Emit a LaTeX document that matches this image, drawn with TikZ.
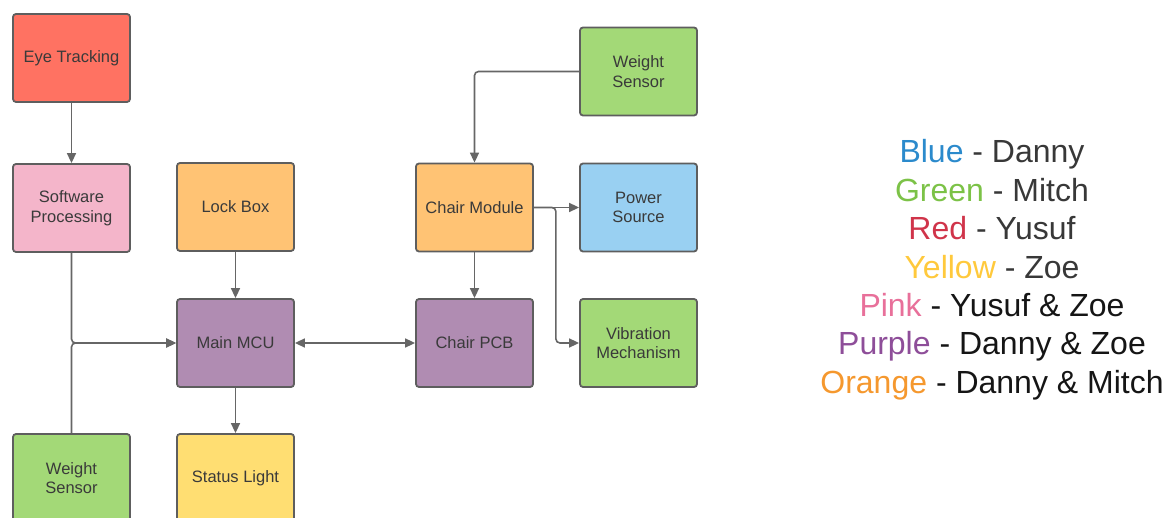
\documentclass[tikz,border=0pt]{standalone}
\usepackage{fontspec}
\setmainfont{Liberation Sans}
\usetikzlibrary{arrows.meta}

\definecolor{boxline}{HTML}{5E5E5E}
\definecolor{boxtext}{HTML}{3A3A3A}
\definecolor{connline}{HTML}{666666}
\definecolor{fillred}{HTML}{FF7262}
\definecolor{fillpink}{HTML}{F4B5CA}
\definecolor{fillorange}{HTML}{FFC374}
\definecolor{fillpurple}{HTML}{B08CB2}
\definecolor{fillgreen}{HTML}{A3D977}
\definecolor{fillblue}{HTML}{99D0F2}
\definecolor{fillyellow}{HTML}{FFDE72}
\definecolor{keyblue}{HTML}{2B8ACC}
\definecolor{keygreen}{HTML}{7CC247}
\definecolor{keyred}{HTML}{D0344A}
\definecolor{keyyellow}{HTML}{FFC93C}
\definecolor{keypink}{HTML}{E8709A}
\definecolor{keypurple}{HTML}{8E4E99}
\definecolor{keyorange}{HTML}{F5982E}
\definecolor{keydark}{HTML}{383838}
\definecolor{keyblack}{HTML}{151515}

\begin{document}
\begin{tikzpicture}[x=1pt,y=-1pt,
  block/.style={draw=boxline, line width=1.8pt, rounded corners=3pt,
    minimum width=117pt, minimum height=88pt, inner sep=0pt, align=center,
    font=\fontsize{16.5}{19.5}\selectfont, text=boxtext},
  conn/.style={draw=connline, line width=1.6pt, rounded corners=4pt,
    -{Triangle[length=10pt,width=9pt]}},
  biconn/.style={conn, {Triangle[length=10pt,width=9pt]}-{Triangle[length=10pt,width=9pt]}},
  keyline/.style={anchor=base, inner sep=0pt, font=\fontsize{32}{32}\selectfont}]
\useasboundingbox (0,0) rectangle (1167,518);
\clip (0,0) rectangle (1167,518);

% blocks
\node[block, fill=fillred]    (eye)    at (71.5,58)    {Eye Tracking};
\node[block, fill=fillpink]   (soft)   at (71.5,208)   {Software\\Processing};
\node[block, fill=fillorange] (lock)   at (235.5,207)  {Lock Box};
\node[block, fill=fillpurple] (mcu)    at (235.5,343)  {Main MCU};
\node[block, fill=fillgreen]  (wsleft) at (71.5,478)   {Weight\\Sensor};
\node[block, fill=fillyellow] (status) at (235.5,478)  {Status Light};
\node[block, fill=fillorange] (chair)  at (474.5,207.5){Chair Module};
\node[block, fill=fillgreen]  (wstop)  at (638.5,71.5) {Weight\\Sensor};
\node[block, fill=fillblue]   (power)  at (638.5,207.5){Power\\Source};
\node[block, fill=fillpurple] (pcb)    at (474.5,343)  {Chair PCB};
\node[block, fill=fillgreen]  (vib)    at (638.5,343)  {Vibration\\Mechanism};

% connectors
\draw[conn] (eye) -- (soft);
\draw[conn] (soft.south) |- (mcu.west);
\draw[conn] (wsleft.north) |- (mcu.west);
\draw[conn] (lock) -- (mcu);
\draw[conn] (mcu) -- (status);
\draw[biconn] (mcu) -- (pcb);
\draw[conn] (wstop.west) -| (chair.north);
\draw[conn] (chair) -- (power);
\draw[conn] (chair.east) -- ++(22,0) |- (vib.west);
\draw[conn] (chair) -- (pcb);

% colour key
\node[keyline] (k1) at (992,163) {\textcolor{keyblue}{Blue} \textcolor{keydark}{- Danny}};
\node[keyline] (k2) at (992,202) {\textcolor{keygreen}{Green} \textcolor{keydark}{- Mitch}};
\node[keyline] (k3) at (992,240) {\textcolor{keyred}{Red} \textcolor{keydark}{- Yusuf}};
\node[keyline] (k4) at (992,279) {\textcolor{keyyellow}{Yellow} \textcolor{keydark}{- Zoe}};
\node[keyline] (k5) at (992,317) {\textcolor{keypink}{Pink} \textcolor{keyblack}{- Yusuf \& Zoe}};
\node[keyline] (k6) at (992,355) {\textcolor{keypurple}{Purple} \textcolor{keyblack}{- Danny \& Zoe}};
\node[keyline] (k7) at (992,393) {\textcolor{keyorange}{Orange} \textcolor{keyblack}{- Danny \& Mitch}};
\end{tikzpicture}
\end{document}
